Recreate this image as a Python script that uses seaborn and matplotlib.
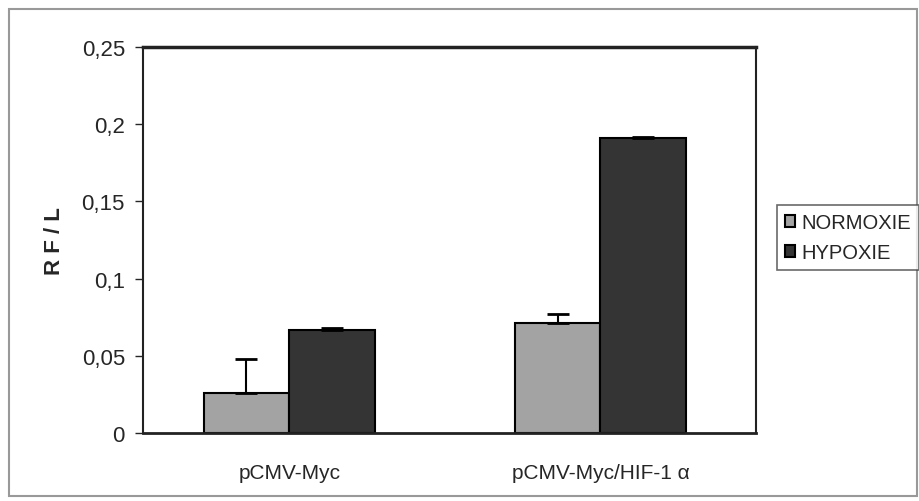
import matplotlib
matplotlib.use("Agg")
import matplotlib.pyplot as plt
import seaborn as sns
import pandas as pd
from matplotlib.patches import Rectangle
from matplotlib.ticker import FuncFormatter

categories = ["pCMV-Myc", "pCMV-Myc/HIF-1 \u03b1"]
conditions = ["NORMOXIE", "HYPOXIE"]
normoxie = [0.026, 0.071]
hypoxie = [0.067, 0.191]
normoxie_err = [0.022, 0.006]
hypoxie_err = [0.001, 0.001]

df = pd.DataFrame({
    "cat": categories * 2,
    "cond": [conditions[0]] * 2 + [conditions[1]] * 2,
    "val": normoxie + hypoxie,
})
errs = normoxie_err + hypoxie_err

sns.set_style("white")
plt.rcParams["font.family"] = ["Liberation Sans", "DejaVu Sans"]

fig = plt.figure(figsize=(9.2, 5.02), dpi=100)
ax = fig.add_axes([143/920, 1-434/502, (756-143)/920, (434-48)/502])

palette = {"NORMOXIE": "#a3a3a3", "HYPOXIE": "#343434"}
sns.barplot(data=df, x="cat", y="val", hue="cond", order=categories,
            hue_order=conditions, palette=palette, width=0.55,
            edgecolor="black", linewidth=1.5, saturation=1, ax=ax, errorbar=None)

bars = [p for p in ax.patches if p.get_height() > 0]
for p, e in zip(bars, errs):
    xc = p.get_x() + p.get_width() / 2
    ax.errorbar([xc], [p.get_height()], yerr=[[0], [e]], fmt="none",
                ecolor="black", elinewidth=1.5, capsize=8, capthick=2)

ax.set_xlim(-0.47, 1.5)
ax.set_ylim(0, 0.25)
ax.set_yticks([0, 0.05, 0.1, 0.15, 0.2, 0.25])
ax.yaxis.set_major_formatter(FuncFormatter(lambda v, _: ("%g" % round(v, 2)).replace(".", ",")))
ax.tick_params(axis="y", left=True, length=6, width=1, labelsize=16, pad=7)
ax.tick_params(axis="x", bottom=False, labelsize=15, pad=18)
ax.set_xlabel("")
ax.set_ylabel("R F / L", fontsize=16, fontweight="bold", labelpad=12)

for s in ["left", "right", "bottom"]:
    ax.spines[s].set_color("#222222")
    ax.spines[s].set_linewidth(1.5)
ax.spines["bottom"].set_linewidth(2)
ax.spines["top"].set_color("#222222")
ax.spines["top"].set_linewidth(2.5)

handles, labels = ax.get_legend_handles_labels()
leg = fig.legend(handles, labels, loc="upper left", bbox_to_anchor=(777/920, 1-206/502),
                 frameon=True, fancybox=False, edgecolor="#444444", fontsize=14.5,
                 handlelength=0.5, handleheight=0.5, handletextpad=0.3,
                 borderpad=0.4, labelspacing=0.55, borderaxespad=0)
leg.get_frame().set_linewidth(1.2)
if ax.get_legend() is not None:
    ax.get_legend().remove()

fig.patches.append(Rectangle((9/920, 1-497/502), (917-9)/920, (497-10)/502,
                             transform=fig.transFigure, fill=False,
                             edgecolor="#999999", linewidth=1.5))

fig.savefig("out.png", dpi=100)
